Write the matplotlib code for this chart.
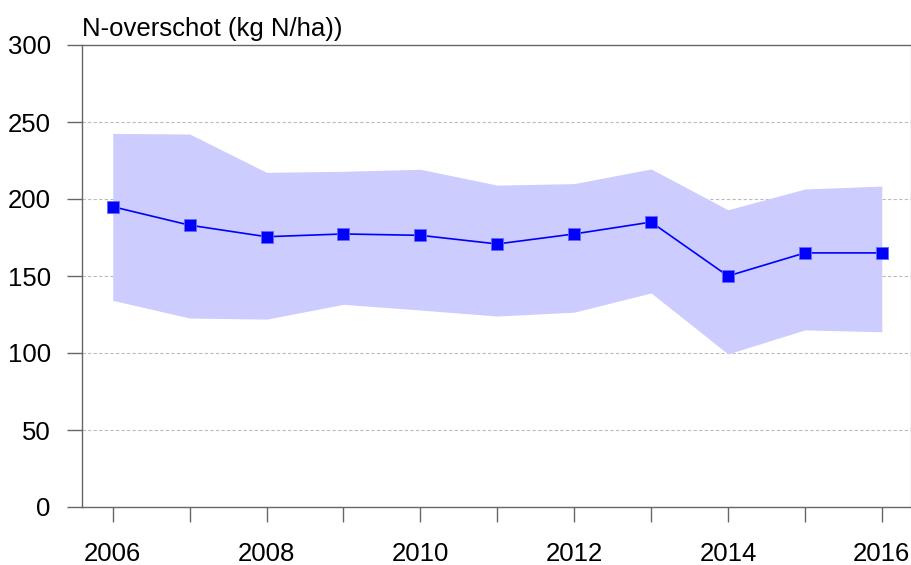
import matplotlib
matplotlib.use("Agg")
import matplotlib.pyplot as plt

years = [2006, 2007, 2008, 2009, 2010, 2011, 2012, 2013, 2014, 2015, 2016]
mean = [195, 183, 175.5, 177.3, 176.4, 170.8, 177.3, 185, 150, 165, 165]
upper = [242.6, 242.2, 217.3, 218, 219.3, 209, 210, 219.5, 193, 206.5, 208.4]
lower = [134.2, 122.7, 122, 131.6, 127.9, 124, 126.5, 139, 99.4, 115, 113.8]
yticks = [0, 50, 100, 150, 200, 250, 300]
xlabels = [2006, 2008, 2010, 2012, 2014, 2016]
title = "N-overschot (kg N/ha))"

plt.rcParams['font.family'] = ['Liberation Sans', 'DejaVu Sans']

W, H = 912, 565
fig = plt.figure(figsize=(W / 100, H / 100), dpi=100)
ax = fig.add_axes([82 / W, (H - 507) / H, (911 - 82) / W, (507 - 45) / H])

ax.fill_between(years, lower, upper, color='#ccccff', linewidth=0, zorder=1)
ax.plot(years, mean, color='#0000ff', linewidth=1.2, marker='s', markersize=9,
        markeredgecolor='#6666ff', markeredgewidth=0.6, zorder=3)

ax.set_xlim(2005.6, 2016.38)
ax.set_ylim(0, 300)
ax.set_yticks(yticks)
ax.set_xticks(years)
ax.set_xticklabels([str(y) if y in xlabels else '' for y in years])

for y in yticks[1:-1]:
    ax.axhline(y, color='#bbbbbb', linestyle=(0, (3, 2)), linewidth=0.8, zorder=0.5)

for s in ['left', 'bottom', 'top']:
    ax.spines[s].set_color('#666666')
    ax.spines[s].set_linewidth(1.0)
ax.spines['right'].set_color('#cccccc')
ax.spines['right'].set_linewidth(1.0)

ax.tick_params(axis='both', length=11, width=1.0, color='#666666', labelsize=18.5)
ax.tick_params(axis='y', pad=11.5)
ax.tick_params(axis='x', pad=14)

fig.text(82 / W, 1 - 36 / H, title, fontsize=18.5, ha='left', va='baseline')

fig.savefig('out.png', dpi=100)
